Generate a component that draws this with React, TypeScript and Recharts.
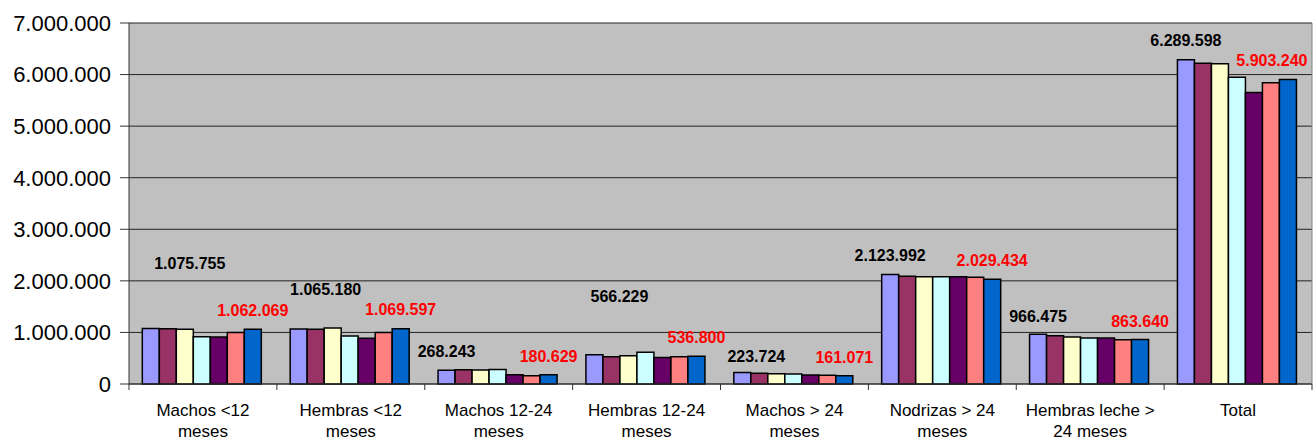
import React from 'react';
import { BarChart, Bar, XAxis, YAxis, CartesianGrid, LabelList } from 'recharts';

const categories = [
  'Machos <12\nmeses',
  'Hembras <12\nmeses',
  'Machos 12-24\nmeses',
  'Hembras 12-24\nmeses',
  'Machos > 24\nmeses',
  'Nodrizas > 24\nmeses',
  'Hembras leche >\n24 meses',
  'Total',
];

const serie1 = [1075755, 1065180, 268243, 566229, 223724, 2123992, 966475, 6289598];
const serie2 = [1070000, 1060000, 278000, 530000, 207000, 2088000, 937000, 6220000];
const serie3 = [1060000, 1086000, 270000, 550000, 200000, 2080000, 910000, 6210000];
const serie4 = [917000, 930000, 280000, 615000, 194000, 2080000, 890000, 5950000];
const serie5 = [910000, 886000, 180000, 515000, 175000, 2080000, 890000, 5650000];
const serie6 = [1000000, 1000000, 160000, 530000, 170000, 2068000, 860000, 5840000];
const serie7 = [1062069, 1069597, 180629, 536800, 161071, 2029434, 863640, 5903240];

const yTicks = [0, 1000000, 2000000, 3000000, 4000000, 5000000, 6000000, 7000000];

const seriesList = [serie1, serie2, serie3, serie4, serie5, serie6, serie7];
const seriesColors = ['#9999FF', '#993366', '#FFFFCC', '#CCFFFF', '#660066', '#FF8080', '#0066CC'];

// label placement adjustments (dx, distance above bar top)
const blackShift = [[39, 65], [27, 40], [0, 19], [25, 58], [14, 16], [0, 19], [0, 18], [0, 19]];
const redShift = [[0, 19], [0, 19], [0, 18], [0, 19], [0, 18], [0, 19], [0, 18], [-16, 19]];

const data = categories.map((c, i) => {
  const row: any = { name: c };
  seriesList.forEach((s, k) => {
    row['s' + (k + 1)] = s[i];
  });
  return row;
});

const FONT = '"Liberation Sans", Arial, sans-serif';

const fmt = (v: number) => String(Math.round(v)).replace(/\B(?=(\d{3})+(?!\d))/g, '.');

const makeLabel = (color: string, shifts: number[][]) => (props: any) => {
  const { x, y, width, value, index } = props;
  const [dx, dy] = shifts[index] || [0, 19];
  return (
    <text
      x={Number(x) + Number(width) / 2 + dx}
      y={Number(y) - dy}
      textAnchor="middle"
      dominantBaseline="central"
      fill={color}
      fontWeight="bold"
      fontSize={16}
      fontFamily={FONT}
    >
      {fmt(Number(value))}
    </text>
  );
};

const XTick = (props: any) => {
  const { x, y, payload, width, visibleTicksCount, index } = props;
  const band = Number(width) / Number(visibleTicksCount || categories.length);
  const lines = String(payload.value).split('\n');
  const left = x - band / 2;
  const right = x + band / 2;
  const isLast = index === (visibleTicksCount || categories.length) - 1;
  return (
    <g>
      <line x1={left} x2={left} y1={y - 6} y2={y} stroke="#333" strokeWidth={1} />
      {isLast && <line x1={right} x2={right} y1={y - 6} y2={y} stroke="#333" strokeWidth={1} />}
      {lines.map((l, i) => (
        <text key={i} x={x} y={y + 26 + i * 21} textAnchor="middle" fontSize={17} fontFamily={FONT} fill="#000">
          {l}
        </text>
      ))}
    </g>
  );
};

export default function App() {
  return (
    <div>
      <style>{'body{margin:0;}'}</style>
      <BarChart
        width={1314}
        height={441}
        data={data}
        margin={{ top: 23, right: 1, bottom: 0, left: 0 }}
        barCategoryGap="9%"
        barGap={0}
      >
        <CartesianGrid vertical={false} fill="#C0C0C0" stroke="#222" strokeWidth={1} />
        <XAxis
          dataKey="name"
          height={57}
          interval={0}
          tickLine={false}
          tickSize={6}
          tickMargin={0}
          axisLine={{ stroke: '#333', strokeWidth: 1 }}
          tick={<XTick />}
        />
        <YAxis
          width={129}
          domain={[0, 7000000]}
          ticks={yTicks}
          interval={0}
          tickSize={9}
          tickMargin={9}
          tickLine={{ stroke: '#333' }}
          axisLine={{ stroke: '#333' }}
          tickFormatter={fmt}
          tick={{ fontSize: 22, fontFamily: FONT, fill: '#000' }}
        />
        <YAxis
          yAxisId="right"
          orientation="right"
          width={1}
          domain={[0, 7000000]}
          tick={false}
          tickLine={false}
          axisLine={{ stroke: '#808080' }}
        />
        {seriesColors.map((col, k) => (
          <Bar
            key={k}
            dataKey={'s' + (k + 1)}
            fill={col}
            stroke="#000"
            strokeWidth={1.5}
            isAnimationActive={false}
          >
            {k === 0 && <LabelList dataKey="s1" content={makeLabel('#000', blackShift)} />}
            {k === 6 && <LabelList dataKey="s7" content={makeLabel('#FF0000', redShift)} />}
          </Bar>
        ))}
      </BarChart>
    </div>
  );
}
